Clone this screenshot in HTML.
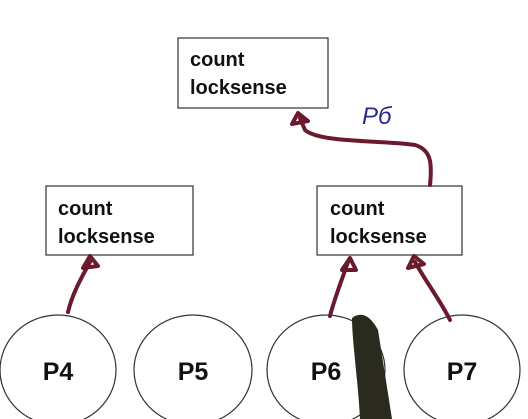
<!DOCTYPE html>
<html><head><style>
body{margin:0;background:#fff;}
</style></head><body>
<svg width="528" height="419" viewBox="0 0 528 419" xmlns="http://www.w3.org/2000/svg" style="display:block">
<g fill="#fff" stroke="#333" stroke-width="1.2">
<rect x="178" y="38" width="150" height="70"/>
<rect x="46" y="186" width="147" height="69"/>
<rect x="317" y="186" width="145" height="69"/>
<ellipse cx="58" cy="370" rx="58" ry="55"/>
<ellipse cx="193" cy="370" rx="59" ry="55"/>
<ellipse cx="326" cy="370" rx="59" ry="55"/>
<ellipse cx="462" cy="370" rx="58" ry="55"/>
</g>
<g font-family="Liberation Sans, sans-serif" font-weight="bold" fill="#111">
<text x="190" y="66" font-size="20">count</text>
<text x="190" y="94" font-size="20">locksense</text>
<text x="58" y="215" font-size="20">count</text>
<text x="58" y="243" font-size="20">locksense</text>
<text x="330" y="215" font-size="20">count</text>
<text x="330" y="243" font-size="20">locksense</text>
<text x="58" y="380" font-size="25" text-anchor="middle">P4</text>
<text x="193" y="380" font-size="25" text-anchor="middle">P5</text>
<text x="326" y="380" font-size="25" text-anchor="middle">P6</text>
<text x="462" y="380" font-size="25" text-anchor="middle">P7</text>
</g>
<g fill="none" stroke="#6a1a2c" stroke-width="4" stroke-linecap="round" stroke-linejoin="round">
<path d="M68 312 C72 295 80 280 90 262"/>
<path d="M83 268 L90 256 L98 266 Z"/>
<path d="M330 316 C334 300 340 285 348 262"/>
<path d="M342 270 L350 258 L356 270 Z"/>
<path d="M450 320 C440 300 428 285 415 262"/>
<path d="M408 268 L414 256 L424 264 Z"/>
<path d="M430 185 C432 165 432 150 415 145 C380 140 320 143 305 130 L300 118"/>
<path d="M292 124 L298 113 L308 121 Z"/>
</g>
<text x="362" y="124" font-family="Liberation Sans, sans-serif" font-size="24" fill="#2a2a8a" font-style="italic">Pб</text>
<path d="M352 318 C362 310 372 318 378 330 L392 419 L360 419 C358 380 352 340 352 318 Z" fill="#2a2a1e"/>
</svg>
</body></html>
